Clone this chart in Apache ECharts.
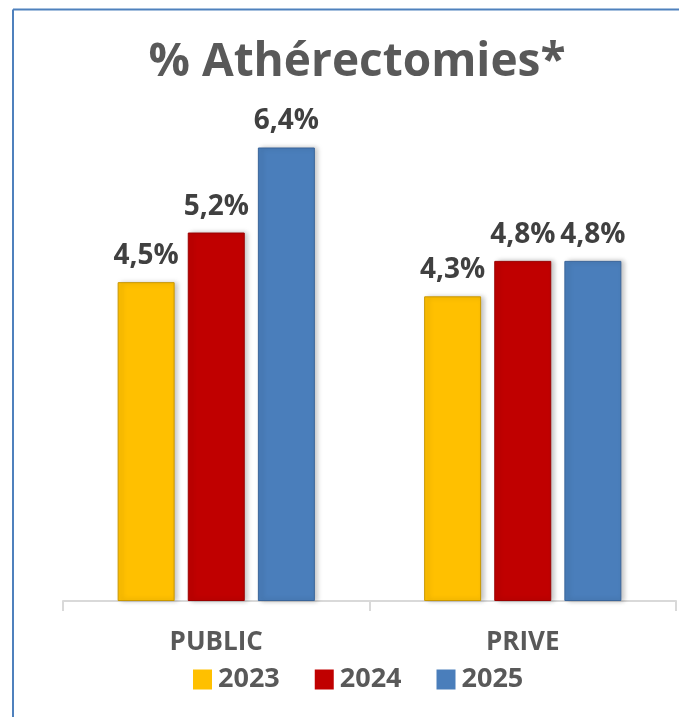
<!DOCTYPE html>
<html>
<head>
<meta charset="utf-8">
<script src="https://cdn.jsdelivr.net/npm/echarts@6/dist/echarts.min.js"></script>
<style>
  html, body { margin: 0; padding: 0; background: #fff; }
  #chart { width: 679px; height: 717px; }
</style>
</head>
<body>
<div id="chart"></div>
<script>
// données
var categories = ['PUBLIC', 'PRIVE'];
var years = ['2023', '2024', '2025'];
var values2023 = [4.5, 4.3];
var values2024 = [5.2, 4.8];
var values2025 = [6.4, 4.8];

var colors = ['#FFC000', '#C00000', '#4A7EBB'];
var borders = ['#C99700', '#9A0000', '#3A659A'];
var font = "'Open Sans', 'Noto Sans', sans-serif";

var chart = echarts.init(document.getElementById('chart'));

function fmt(p) {
	return p.value.toFixed(1).replace('.', ',') + '%';
}

function makeSerie(i, data) {
	return {
		name: years[i],
		type: 'bar',
		data: data,
		barWidth: 57,
		barGap: '23%',
		itemStyle: {
			color: colors[i],
			borderColor: borders[i],
			borderWidth: 1,
			shadowColor: 'rgba(0,0,0,0.25)',
			shadowBlur: 5,
			shadowOffsetX: 3
		},
		label: {
			show: true,
			position: 'top',
			distance: 12,
			formatter: fmt,
			color: '#404040',
			fontSize: 28,
			fontWeight: 'bold',
			fontFamily: font
		}
	};
}

var option = {
	animation: false,
	title: {
		text: '% Athérectomies*',
		left: 352,
		top: 35,
		textAlign: 'center',
		textStyle: {
			color: '#595959',
			fontSize: 46,
			fontWeight: 'bold',
			fontFamily: font
		}
	},
	legend: {
		left: 193,
		top: 666,
		padding: 0,
		itemWidth: 19,
		itemHeight: 20,
		itemGap: 35,
		icon: 'rect',
		data: years,
		itemStyle: { borderWidth: 0, shadowBlur: 0, shadowOffsetX: 0 },
		textStyle: {
			color: '#595959',
			fontSize: 27,
			fontWeight: 'bold',
			fontFamily: font,
			padding: [0, 0, 0, 1]
		}
	},
	grid: {
		left: 63,
		right: 3,
		top: 105,
		bottom: 116
	},
	xAxis: {
		type: 'category',
		data: categories,
		axisLine: { lineStyle: { color: '#D9D9D9', width: 2 } },
		axisTick: { show: true, length: 10, lineStyle: { color: '#D9D9D9', width: 2 } },
		axisLabel: {
			margin: 29,
			color: '#595959',
			fontSize: 26,
			fontWeight: 'bold',
			fontFamily: font
		}
	},
	yAxis: {
		type: 'value',
		min: 0,
		max: 7,
		show: false
	},
	series: [
		makeSerie(0, values2023),
		makeSerie(1, values2024),
		makeSerie(2, values2025)
	],
	graphic: [
		{ type: 'line', shape: { x1: 13, y1: 9.5, x2: 679, y2: 9.5 }, style: { stroke: '#4F81BD', lineWidth: 2 } },
		{ type: 'line', shape: { x1: 13, y1: 9.5, x2: 13, y2: 717 }, style: { stroke: '#4F81BD', lineWidth: 2 } }
	]
};

chart.setOption(option);
</script>
</body>
</html>
